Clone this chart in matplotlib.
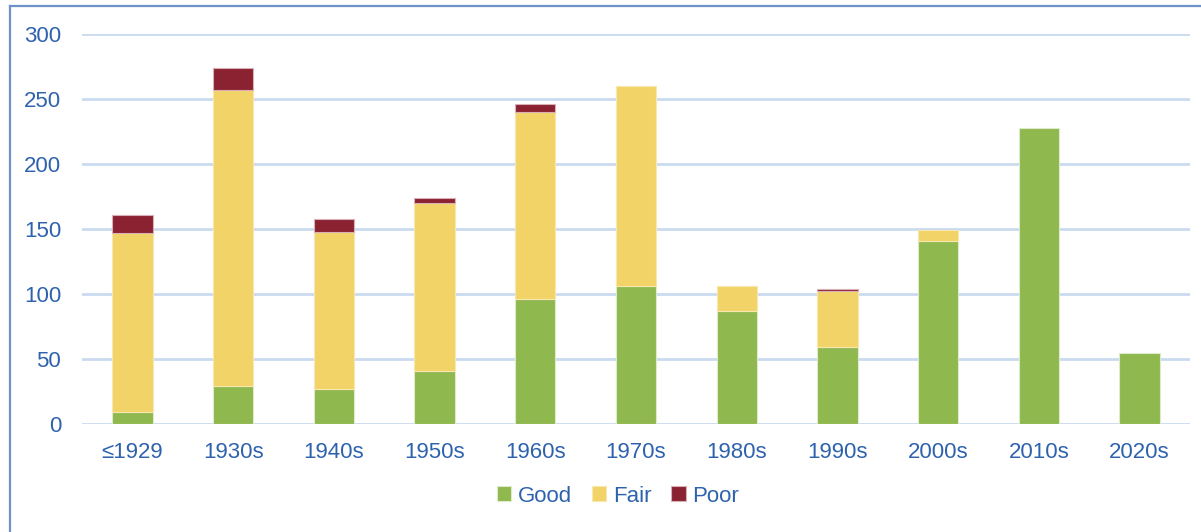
"""Stacked bar chart of condition by decade built."""

import numpy as np
import matplotlib
matplotlib.use('Agg')
from matplotlib import pyplot as plt
from matplotlib.lines import Line2D

plt.rcParams['font.family'] = ['Liberation Sans', 'DejaVu Sans']

decades = ['≤1929', '1930s', '1940s', '1950s', '1960s', '1970s',
           '1980s', '1990s', '2000s', '2010s', '2020s']
good = [9, 29, 27, 41, 96, 106, 87, 59, 141, 228, 55]
fair = [138, 228, 121, 129, 144, 154, 19, 43, 8, 0, 0]
poor = [14, 17, 10, 4, 6, 0, 0, 2, 0, 0, 0]

TEXT = '#2E62AD'
GRID = '#CADBF0'
colors = {'Good': '#8FB84E', 'Fair': '#F2D367', 'Poor': '#8B2231'}

fig = plt.figure(figsize=(12.01, 5.32), dpi=100)
ax = fig.add_axes([82 / 1201, 1 - 424 / 532, 1108 / 1201, 390 / 532])

x = np.arange(len(decades))
good = np.array(good)
fair = np.array(fair)
poor = np.array(poor)
w = 0.4


def stack(vals, bottom, name, edge):
    # skip empty segments so no stray edge lines show up
    m = vals > 0
    ax.bar(x[m], vals[m], w, bottom=bottom[m], color=colors[name],
           edgecolor=edge, lw=0.8, label=name, zorder=3)


stack(good, np.zeros_like(good), 'Good', '#DDEBC8')
stack(fair, good, 'Fair', '#F8E8B0')
stack(poor, good + fair, 'Poor', '#D8B0B5')

ax.set_xlim(-0.5, len(decades) - 0.5)
ax.set_ylim(0, 300)
ax.set_yticks(range(0, 301, 50))
ax.yaxis.grid(True, color=GRID, lw=2, zorder=0)
ax.set_xticks(x)
ax.set_xticklabels(decades)
ax.tick_params(length=0, labelsize=16, labelcolor=TEXT)
ax.tick_params(axis='y', pad=15)
ax.tick_params(axis='x', pad=13)
for s in ax.spines.values():
    s.set_visible(False)

fig.legend(loc='center', bbox_to_anchor=(618 / 1201, 1 - 496 / 532),
           ncol=3, frameon=False, fontsize=16, labelcolor=TEXT,
           handlelength=0.65, handleheight=0.65, handletextpad=0.3,
           columnspacing=0.9)

# figure border (left and top visible)
fig.add_artist(Line2D([10 / 1201, 10 / 1201], [0, 1 - 6 / 532],
                      transform=fig.transFigure, color='#6F93C8', lw=1.6))
fig.add_artist(Line2D([10 / 1201, 1], [1 - 6 / 532, 1 - 6 / 532],
                      transform=fig.transFigure, color='#6F93C8', lw=1.6))

fig.savefig('out.png', dpi=100)
